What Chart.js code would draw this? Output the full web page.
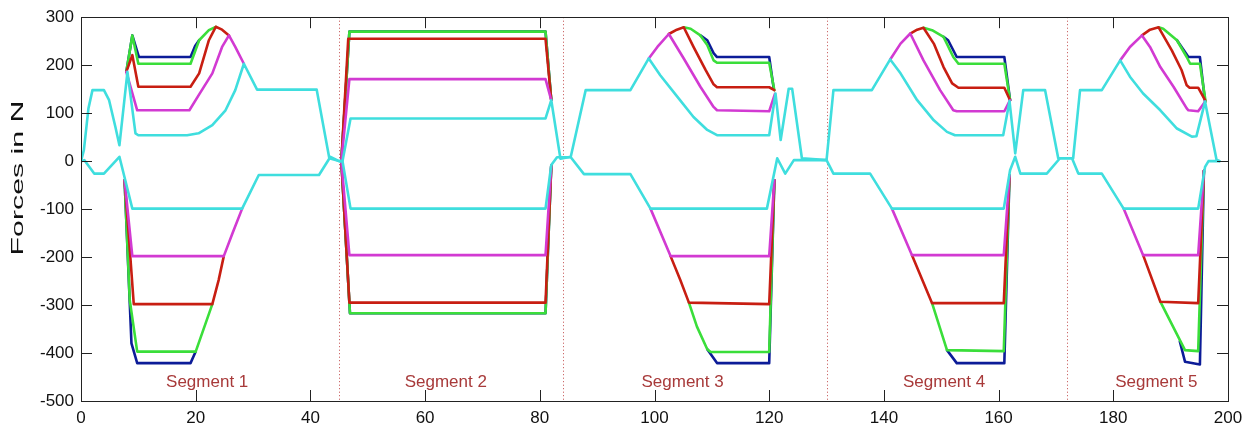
<!DOCTYPE html>
<html>
<head>
<meta charset="utf-8">
<script src="https://cdn.jsdelivr.net/npm/chart.js@4.4.1/dist/chart.umd.min.js"></script>
<style>
  html, body { margin: 0; padding: 0; background: #fff; }
  #wrap { width: 1254px; height: 428px; }
</style>
</head>
<body>
<div id="wrap"><canvas id="forces"></canvas></div>
<script>
// [x, y] pairs, null = break between segments
const cyanUpper = [[0,0],[0.5,23],[1.3,110],[2,148],[4,148],[4.9,127],[6,71],[6.7,33],[8.1,186],[9.5,58],[10,54],[18.5,54],[20.5,58],[22.9,75],[25.2,106],[26.9,148],[28.4,203],[30.7,149],[41.1,149],[43.3,6],[45,0],[45.6,0],[47,89],[81,89],[82,127],[83.6,5],[85.4,9],[88,148],[95.8,148],[99,214],[101,179],[104,134],[106.8,92],[109.2,65],[110.9,54],[120,54],[121.1,141],[122,44],[123.4,151],[124,151],[125.7,6],[130,2],[131.2,148],[137.9,148],[141.1,212],[142.9,183],[145.8,127],[148.7,85],[151,61],[152.4,54],[160.8,54],[161.9,125],[162.9,16],[164.3,148],[168.1,148],[170.4,6],[173,6],[174.2,148],[178,148],[181.2,210],[182.9,176],[185.2,141],[188.2,106],[191.1,68],[193.7,51],[194.5,52],[196,124],[198,3],[198.5,0]];
const cyanLower = [[0,0],[0.6,2],[2.3,-26],[4,-26],[6.7,9],[8.95,-99],[28.1,-99],[31,-29],[41.5,-29],[43.5,9],[45,0],[45.6,0],[47,-99],[81,-99],[82,-8],[83,8],[85.4,8],[87.7,-27],[95.8,-27],[99.3,-99],[119.6,-99],[121.4,6],[122.8,-26],[124.3,2],[130,2],[131.2,-26],[137.6,-26],[141.4,-99],[160.9,-99],[162,-19],[162.9,9],[163.8,-26],[168.4,-26],[170.7,6],[172.8,6],[173.9,-26],[178,-26],[181.8,-99],[194.8,-99],[196,-12],[196.6,0],[198.5,0]];

const magentaUpper = [[7.9,186],[9.8,106],[18.9,106],[20.5,137],[22.9,183],[24.6,238],[25.8,262],[26.9,238],[28.4,203], null,
  [45.4,0],[46.8,171],[81,171],[82,127], null,
  [99,214],[100.5,238],[102.5,265],[105.1,214],[108,155],[110.3,113],[110.9,106],[120,104],[121,140], null,
  [141.1,212],[142.9,245],[144.6,266],[146.9,210],[149.8,148],[152.1,106],[152.7,104],[161,104],[162,127], null,
  [181.2,210],[182.9,238],[185,262],[186.4,238],[188.2,196],[190.5,155],[192.8,110],[193.1,106],[194.8,104],[196,124]];
const magentaLower = [[7.6,-40],[8.95,-198],[24.9,-198],[26.4,-151],[28.1,-99], null,
  [45.4,0],[46.8,-196],[81,-196],[82,-10], null,
  [99.3,-99],[102.8,-198],[120,-198],[120.9,-40], null,
  [141.4,-99],[144.9,-196],[160.9,-196],[161.9,-30], null,
  [181.8,-99],[185.2,-196],[194.8,-196],[195.8,-20]];

const redUpper = [[7.9,186],[8.95,221],[10,155],[19.1,155],[20.6,183],[22.3,252],[23.5,280],[24.6,274],[25.8,262], null,
  [45.4,0],[46.6,255],[81,255],[82,127], null,
  [102.5,265],[103.9,274],[105.1,279],[106.8,238],[108.9,190],[110.3,160],[110.9,154],[120,154],[120.9,148], null,
  [144.6,266],[145.8,274],[146.9,278],[148.7,245],[150.4,196],[151.9,162],[153,153],[161,153],[162,127], null,
  [185,262],[186.4,274],[187.9,279],[190.2,231],[191.9,190],[192.8,158],[193.3,153],[194.8,153],[196,127]];
const redLower = [[7.6,-40],[8.3,-150],[9.2,-298],[22.9,-298],[24,-248],[24.9,-198], null,
  [45.4,0],[46.8,-295],[81,-295],[82,-10], null,
  [102.8,-198],[104.5,-248],[106,-295],[120,-298],[120.9,-40], null,
  [144.9,-196],[148.4,-296],[160.9,-296],[161.9,-30], null,
  [185.2,-196],[188.2,-293],[194.8,-296],[195.8,-20]];

const greenUpper = [[7.9,186],[8.95,262],[10,203],[19.1,203],[20.6,252],[22.3,273],[23.5,280], null,
  [45.4,0],[46.8,270],[81,270],[82,127], null,
  [105.1,279],[106.3,276],[108,262],[109.2,242],[110.3,210],[110.9,205],[120,205],[120.9,148], null,
  [146.9,278],[148.4,273],[150.4,259],[152.1,217],[153,203],[161,203],[162,127], null,
  [187.9,279],[188.7,276],[191.1,252],[192.8,217],[193.4,203],[195.1,203],[196.1,124]];
const greenLower = [[7.6,-40],[8.5,-290],[9.8,-397],[20,-397],[22.9,-298], null,
  [45.4,0],[46.9,-317],[81,-317],[82,-10], null,
  [106,-295],[107.4,-345],[109.2,-392],[109.8,-398],[120,-398],[120.9,-40], null,
  [148.4,-296],[151,-394],[160.9,-396],[161.9,-30], null,
  [188.2,-293],[192.5,-394],[194.8,-396],[195.8,-20]];

const blueUpper = [[7.9,186],[8.95,262],[10.1,217],[19.1,217],[19.9,240],[20.6,252], null,
  [45.4,0],[46.8,270],[81,270],[82,127], null,
  [108,262],[109.2,252],[110.3,225],[110.9,217],[120,217],[120.8,150], null,
  [150.4,259],[151.2,252],[152.7,217],[161,217],[162,127], null,
  [191.1,252],[193.1,217],[195.1,217],[196,124]];
const blueLower = [[7.6,-40],[8.8,-380],[9.8,-421],[19.1,-421],[20,-397], null,
  [45.4,0],[46.9,-317],[81,-317],[82,-10], null,
  [109.2,-392],[110.9,-421],[120,-421],[120.9,-40], null,
  [151,-394],[152.7,-421],[161,-421],[161.9,-30], null,
  [191.6,-376],[192.5,-418],[195.1,-424],[195.8,-20]];

const segmentBounds = [45, 84, 130, 172];
const segmentNames = ['Segment 1', 'Segment 2', 'Segment 3', 'Segment 4', 'Segment 5'];
const segmentLabelX = [22, 63.6, 104.9, 150.5, 187.5];
const segmentLabelY = -471;

const xTicks = [0, 20, 40, 60, 80, 100, 120, 140, 160, 180, 200];
const yTicks = [-500, -400, -300, -200, -100, 0, 100, 200, 300];

const FONT = '"Liberation Sans", Arial, sans-serif';

function toPoints(arr) {
  return arr.map((p, i) => p ? { x: p[0], y: p[1] } : { x: arr[i - 1][0], y: null });
}

function line(data, color) {
  return {
    data: toPoints(data),
    borderColor: color,
    borderWidth: 2.6,
    pointRadius: 0,
    tension: 0,
    fill: false,
    borderJoinStyle: 'round',
    borderCapStyle: 'round',
  };
}

// first dataset is painted last (on top)
const datasets = [
  line(cyanUpper, '#3fdede'),
  line(cyanLower, '#3fdede'),
  line(magentaUpper, '#d23ad2'),
  line(magentaLower, '#d23ad2'),
  line(redUpper, '#c81e12'),
  line(redLower, '#c81e12'),
  line(greenUpper, '#3ade3a'),
  line(greenLower, '#3ade3a'),
  line(blueUpper, '#0c1c98'),
  line(blueLower, '#0c1c98'),
];

const framePlugin = {
  id: 'frame',
  beforeDatasetsDraw(chart) {
    const { ctx, chartArea: a, scales: { x } } = chart;
    ctx.save();
    ctx.strokeStyle = '#c04848';
    ctx.lineWidth = 1;
    ctx.setLineDash([1, 2.5]);
    segmentBounds.forEach((v) => {
      const px = Math.round(x.getPixelForValue(v)) + 0.5;
      ctx.beginPath();
      ctx.moveTo(px, a.top);
      ctx.lineTo(px, a.bottom);
      ctx.stroke();
    });
    ctx.restore();
  },
  afterDraw(chart) {
    const { ctx, chartArea: a, scales: { x, y } } = chart;
    const tl = 11;
    ctx.save();
    ctx.strokeStyle = '#222';
    ctx.lineWidth = 1;
    ctx.strokeRect(Math.round(a.left) + 0.5, Math.round(a.top) + 0.5,
      Math.round(a.right - a.left), Math.round(a.bottom - a.top));
    ctx.beginPath();
    xTicks.forEach((v) => {
      const px = Math.round(x.getPixelForValue(v)) + 0.5;
      ctx.moveTo(px, a.bottom); ctx.lineTo(px, a.bottom - tl);
      ctx.moveTo(px, a.top); ctx.lineTo(px, a.top + tl);
    });
    yTicks.forEach((v) => {
      const py = Math.round(y.getPixelForValue(v)) + 0.5;
      ctx.moveTo(a.left, py); ctx.lineTo(a.left + tl, py);
      ctx.moveTo(a.right, py); ctx.lineTo(a.right - tl, py);
    });
    ctx.stroke();

    // segment names
    ctx.fillStyle = '#a83a3a';
    ctx.font = '17px ' + FONT;
    ctx.textAlign = 'center';
    ctx.textBaseline = 'alphabetic';
    segmentNames.forEach((s, i) => {
      ctx.fillText(s, x.getPixelForValue(segmentLabelX[i]), y.getPixelForValue(segmentLabelY));
    });

    // y axis title, stretched like the original
    ctx.fillStyle = '#111';
    ctx.font = '16px ' + FONT;
    const w = ctx.measureText('Forces in N').width;
    ctx.translate(18.5, 178);
    ctx.rotate(-Math.PI / 2);
    ctx.scale(155 / w, 1);
    ctx.textBaseline = 'middle';
    ctx.fillText('Forces in N', 0, 0);
    ctx.restore();
  }
};

new Chart(document.getElementById('forces'), {
  type: 'line',
  data: { datasets },
  options: {
    responsive: true,
    maintainAspectRatio: false,
    animation: false,
    devicePixelRatio: 1,
    layout: { padding: { top: 17, right: 26, left: 0, bottom: 0 } },
    scales: {
      x: {
        type: 'linear',
        min: 0,
        max: 200,
        grid: { display: false, drawTicks: false },
        border: { display: false },
        afterBuildTicks: (s) => { s.ticks = xTicks.map((v) => ({ value: v })); },
        afterFit: (s) => { s.height = 27; },
        ticks: { padding: 7, color: '#111', font: { size: 17, family: FONT }, maxRotation: 0 },
      },
      y: {
        type: 'linear',
        min: -500,
        max: 300,
        grid: { display: false, drawTicks: false },
        border: { display: false },
        afterBuildTicks: (s) => { s.ticks = yTicks.map((v) => ({ value: v })); },
        afterFit: (s) => { s.width = 81; },
        ticks: { padding: 7, color: '#111', font: { size: 17, family: FONT } },
      },
    },
    plugins: {
      legend: { display: false },
      tooltip: { enabled: false },
    },
  },
  plugins: [framePlugin],
});
</script>
</body>
</html>
